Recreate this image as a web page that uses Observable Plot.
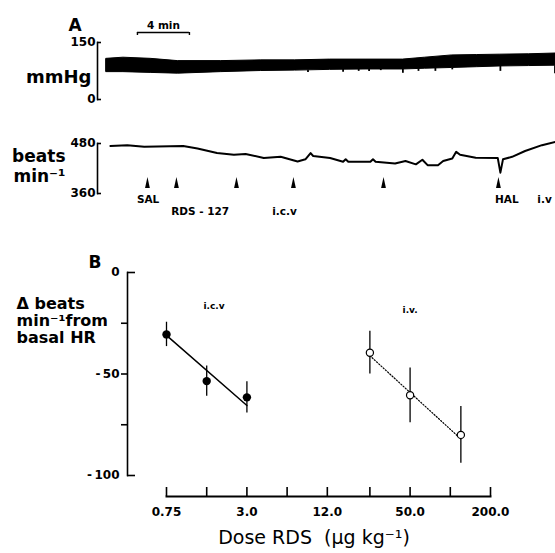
<!DOCTYPE html>
<html>
<head>
<meta charset="utf-8">
<script src="https://cdn.jsdelivr.net/npm/d3@7"></script>
<script src="https://cdn.jsdelivr.net/npm/@observablehq/plot@0.6"></script>
<style>
  body { margin: 0; background: #fff; }
  #fig { position: relative; width: 555px; height: 553px; background: #fff; overflow: hidden; }
  #fig svg { position: absolute; left: 0; }
</style>
</head>
<body>
<div id="fig"></div>
<script>
// ---------- Panel A: blood pressure trace (time in min, mmHg) ----------
const bpTime      = [0, 1.3, 3.4, 5.5, 8.8, 11.9, 14.5, 17.2, 20.0, 22.8, 24.5, 26.6, 28.5, 30.3, 32.5, 34.54];
const bpSystolic  = [107, 110, 107, 101, 101, 103, 103, 105, 105, 105, 110, 116, 117, 118, 119, 121];
const bpDiastolic = [72, 72, 70, 68, 72, 75, 76, 78, 79, 79, 81, 83, 85, 87, 88, 89];
const bpSpikeTime = [15.5, 18.2, 19.4, 20.2, 21.1, 22.8, 24.0, 25.3, 26.6, 30.3, 34.5];
const bpSpikeLow  = [71, 72, 74, 74, 76, 69, 74, 74, 78, 74, 68];
const bpSpikeBase = [77, 79, 79, 79, 79, 79, 80, 82, 83, 87, 89];
const bpTicks = [0, 150];

// ---------- Panel A: heart rate trace (time in min, beats/min) ----------
const hrTime = [0.3, 1.6, 2.9, 5.9, 7.0, 8.5, 9.8, 10.7, 12.1, 13.4, 14.7, 15.3, 15.7, 15.9, 17.2, 18.2, 18.4, 18.6,
                20.3, 20.5, 20.7, 22.2, 23.0, 23.8, 24.3, 24.7, 25.5, 25.9, 26.6, 26.9, 27.2, 28.4, 30.1, 30.3, 30.5,
                31.2, 32.2, 33.5, 34.54];
const hrBpm  = [474, 476, 472, 474, 468, 457, 453, 455, 445, 448, 437, 442, 457, 450, 445, 436, 442, 436,
                436, 442, 436, 432, 438, 430, 441, 428, 428, 438, 444, 460, 453, 446, 445, 410, 442,
                448, 462, 476, 484];
const hrTicks = [360, 480];
const injectionTime = [3.15, 5.38, 10.0, 14.38, 21.31, 30.15];
const upperLabels = ["SAL", "HAL", "i.v"];
const upperLabelTime = [3.2, 30.8, 33.7];
const lowerLabels = ["RDS - 127", "i.c.v"];
const lowerLabelTime = [7.2, 13.7];
const scaleBarStart = 2.38;   // min
const scaleBarMinutes = 4;    // "4 min"

// ---------- Panel B: dose-response ----------
const doseTicks = [0.75, 1.5, 3, 6, 12, 25, 50, 100, 200];
const doseTickLabels = ["0.75", "", "3.0", "", "12.0", "", "50.0", "", "200.0"];
const icvDose = [0.75, 1.5, 3];
const icvMean = [-30.5, -53.5, -61.5];
const icvSem  = [6, 7.5, 7.7];
const ivDose  = [25, 50, 120];
const ivMean  = [-39.5, -60.5, -80];
const ivSem   = [10.5, 13.5, 14];
const icvFitDose = [0.75, 3];
const icvFitValue = [-31, -65.5];
const ivFitDose = [25, 120];
const ivFitValue = [-41, -82];
const groupLabels = ["i.c.v", "i.v."];
const groupLabelDose = [1.7, 50];
const groupLabelValue = [-16.6, -18.7];
const hrAxisTicks = [0, -25, -50, -75, -100];
const hrAxisLabelled = [0, -50, -100];

// ---------- build tables ----------
const bp = bpTime.map((t, i) => ({t, sys: bpSystolic[i], dia: bpDiastolic[i]}));
const bpSpikes = bpSpikeTime.map((t, i) => ({t, low: bpSpikeLow[i], base: bpSpikeBase[i]}));
const hr = hrTime.map((t, i) => ({t, bpm: hrBpm[i]}));
const upper = upperLabels.map((s, i) => ({s, t: upperLabelTime[i]}));
const lower = lowerLabels.map((s, i) => ({s, t: lowerLabelTime[i]}));
const icv = icvDose.map((d, i) => ({d, m: icvMean[i], lo: icvMean[i] - icvSem[i], hi: icvMean[i] + icvSem[i]}));
const iv = ivDose.map((d, i) => ({d, m: ivMean[i], lo: ivMean[i] - ivSem[i], hi: ivMean[i] + ivSem[i]}));
const icvFit = icvFitDose.map((d, i) => ({d, v: icvFitValue[i]}));
const ivFit = ivFitDose.map((d, i) => ({d, v: ivFitValue[i]}));
const grp = groupLabels.map((s, i) => ({s, d: groupLabelDose[i], v: groupLabelValue[i]}));
const doseLabel = new Map(doseTicks.map((d, i) => [d, doseTickLabels[i]]));

const FONT = '"DejaVu Sans", sans-serif';
const baseStyle = {fontFamily: FONT, fontSize: "12px", color: "black", background: "transparent", overflow: "visible"};
const timeDomain = [0, 34.54];

const arrowSymbol = {
  draw(context, size) {
    const r = Math.sqrt(size / Math.PI);
    context.moveTo(0, -1.8 * r);
    context.lineTo(0.8 * r, 1.8 * r);
    context.lineTo(-0.8 * r, 1.8 * r);
    context.closePath();
  }
};

// BP plot
const bpPlot = Plot.plot({
  width: 555, height: 110,
  marginLeft: 97, marginRight: 0, marginTop: 42, marginBottom: 11,
  insetLeft: 9,
  style: baseStyle,
  x: {domain: timeDomain, axis: null, label: null},
  y: {domain: [0, 150], label: null},
  marks: [
    Plot.frame({anchor: "left", strokeWidth: 1.6}),
    Plot.axisY({ticks: bpTicks, tickSize: -4, tickPadding: 6, label: null, fontSize: 12, fontWeight: "bold", strokeWidth: 1.6}),
    Plot.areaY(bp, {x: "t", y1: "dia", y2: "sys", fill: "black", stroke: "black", strokeWidth: 1}),
    Plot.ruleX(bpSpikes, {x: "t", y1: "low", y2: "base", strokeWidth: 1.8}),
    Plot.ruleY([150], {x1: scaleBarStart, x2: scaleBarStart + scaleBarMinutes, dy: -10, strokeWidth: 1.4}),
    Plot.ruleX([scaleBarStart, scaleBarStart + scaleBarMinutes], {y1: 150, y2: 150, insetBottom: -3, dy: -10, strokeWidth: 1.4}),
    Plot.text(["4 min"], {x: scaleBarStart + scaleBarMinutes / 2, frameAnchor: "top", dy: -21, fontSize: 10.5, fontWeight: "bold"}),
    Plot.text(["A"], {frameAnchor: "top-left", dx: -29, dy: -24, fontSize: 17, fontWeight: "bold"}),
    Plot.text(["mmHg"], {frameAnchor: "left", dx: -6, dy: 6, textAnchor: "end", fontSize: 18, fontWeight: "bold", letterSpacing: "-1px"})
  ]
});

// HR plot
const hrPlot = Plot.plot({
  width: 555, height: 130,
  marginLeft: 97, marginRight: 0, marginTop: 33, marginBottom: 47,
  insetLeft: 9,
  style: baseStyle,
  x: {domain: timeDomain, axis: null, label: null},
  y: {domain: [360, 480], label: null},
  marks: [
    Plot.frame({anchor: "left", strokeWidth: 1.6}),
    Plot.axisY({ticks: hrTicks, tickSize: -4, tickPadding: 6, label: null, fontSize: 12, fontWeight: "bold", strokeWidth: 1.6}),
    Plot.line(hr, {x: "t", y: "bpm", strokeWidth: 2}),
    Plot.dot(injectionTime, {x: d => d, frameAnchor: "bottom", dy: -11, r: 3, symbol: arrowSymbol, fill: "black"}),
    Plot.text(upper, {x: "t", text: "s", frameAnchor: "bottom", dy: 9, fontSize: 10.5, fontWeight: "bold"}),
    Plot.text(lower, {x: "t", text: "s", frameAnchor: "bottom", dy: 21, fontSize: 10.5, fontWeight: "bold"}),
    Plot.text(["beats\nmin⁻¹"], {frameAnchor: "left", dx: -32, dy: -3, textAnchor: "end", lineHeight: 1.15, fontSize: 17, fontWeight: "bold"})
  ]
});

// Panel B
const fmtY = d => d < 0 ? "-\u2009" + Math.abs(d) : String(d);
const bPlot = Plot.plot({
  width: 555, height: 313,
  marginLeft: 127, marginRight: 65, marginTop: 32, marginBottom: 57,
  insetLeft: 39, insetBottom: 21,
  style: baseStyle,
  x: {type: "log", base: 2, domain: [0.75, 200], label: null},
  y: {domain: [-100, 0], label: null},
  marks: [
    Plot.frame({anchor: "left", insetBottom: 21, strokeWidth: 1.6}),
    Plot.frame({anchor: "bottom", insetLeft: 39, strokeWidth: 2}),
    Plot.axisX({ticks: doseTicks, tickSize: -9, tickPadding: 20, label: null, tickFormat: d => doseLabel.get(d) ?? "", fontSize: 12, fontWeight: "bold", strokeWidth: 1.6}),
    Plot.axisY({ticks: hrAxisLabelled, tickSize: 0, tickPadding: 8, label: null, tickFormat: fmtY, fontSize: 12, fontWeight: "bold"}),
    Plot.axisY({ticks: hrAxisTicks.filter(d => d !== 0 && d !== -100), tickSize: 6, label: null, tickFormat: () => "", strokeWidth: 1.6}),
    Plot.axisY({ticks: [hrAxisTicks[0], hrAxisTicks[hrAxisTicks.length - 1]], tickSize: -8, label: null, tickFormat: () => "", strokeWidth: 1.6}),
    // i.c.v
    Plot.line(icvFit, {x: "d", y: "v", strokeWidth: 1.5}),
    Plot.ruleX(icv, {x: "d", y1: "lo", y2: "hi", strokeWidth: 1.3}),
    Plot.dot(icv, {x: "d", y: "m", r: 4.2, fill: "black"}),
    // i.v.
    Plot.line(ivFit, {x: "d", y: "v", strokeWidth: 1.2, strokeDasharray: "1.2,1.8"}),
    Plot.ruleX(iv, {x: "d", y1: "lo", y2: "hi", strokeWidth: 1.3}),
    Plot.dot(iv, {x: "d", y: "m", r: 3.6, fill: "white", stroke: "black", strokeWidth: 1.2}),
    Plot.text(grp, {x: "d", y: "v", text: "s", fontSize: 9, fontWeight: "bold"}),
    Plot.text(["B"], {frameAnchor: "top-left", dx: -39, dy: -17, fontSize: 17, fontWeight: "bold"}),
    Plot.text(["Δ beats\nmin⁻¹from\nbasal HR"], {frameAnchor: "top-left", dx: -111, dy: 48, textAnchor: "start", lineAnchor: "middle", lineHeight: 1.07, fontSize: 16, fontWeight: "bold"}),
    Plot.text(["Dose RDS  (µg kg⁻¹)"], {frameAnchor: "bottom", dx: 5, dy: 47, fontSize: 19})
  ]
});

const fig = document.getElementById("fig");
bpPlot.style.top = "0px";
hrPlot.style.top = "110px";
bPlot.style.top = "240px";
fig.append(bpPlot, hrPlot, bPlot);
</script>
</body>
</html>
